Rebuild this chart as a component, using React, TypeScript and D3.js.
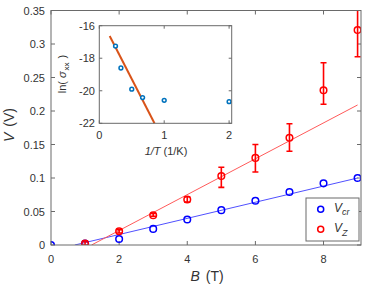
import * as d3 from 'd3';
import * as React from 'react';

const W = 374;
const H = 288;

// main plot data
const fieldB = [0, 1, 2, 3, 4, 5, 6, 7, 8, 9];
const vCr = [0, 0.002, 0.009, 0.024, 0.038, 0.052, 0.066, 0.079, 0.092, 0.1];
const fieldZ = [1, 2, 3, 4, 5, 6, 7, 8, 9];
const vZ = [0.002, 0.0205, 0.0445, 0.068, 0.103, 0.13, 0.16, 0.231, 0.321];
const vZLow = [0, 0.018, 0.043, 0.064, 0.086, 0.109, 0.14, 0.21, 0.281];
const vZHigh = [0.005, 0.023, 0.047, 0.072, 0.116, 0.15, 0.181, 0.272, 0.361];
const fitCrB = [0.7, 9];
const fitCrV = [0, 0.1];
const fitZB = [1.19, 9];
const fitZV = [0, 0.209];
const xTicks = [0, 2, 4, 6, 8];
const yTicks = [0, 0.05, 0.1, 0.15, 0.2, 0.25, 0.3, 0.35];

// inset data
const invT = [0.25, 0.333, 0.5, 0.667, 1, 2];
const lnSigma = [-17.25, -18.6, -19.9, -20.42, -20.59, -20.67];
const fitInvT = [0.16, 0.85];
const fitLn = [-16.63, -22];
const insetXTicks = [0, 1, 2];
const insetYTicks = [-16, -18, -20, -22];

const FONT = 'Liberation Sans, Arial, sans-serif';
const AX = '#6a6a6a';
const TXT = '#333';

const x = d3.scaleLinear().domain([0, 9.1]).range([51, 361]);
const y = d3.scaleLinear().domain([0, 0.35]).range([245, 10.5]);
const ix = d3.scaleLinear().domain([0, 2.04]).range([99.3, 231.7]);
const iy = d3.scaleLinear().domain([-22, -16]).range([123.3, 25.7]);

const line = (xs: number[], ys: number[], sx: any, sy: any) =>
  d3.line<number>().x((d) => sx(d)).y((d, i) => sy(ys[i]))(xs) as string;

export default function App() {
  const [x0, x1] = x.range();
  const [y0, y1] = y.range();
  const [ix0, ix1] = ix.range();
  const [iy0, iy1] = iy.range();
  const tk = 4;

  return (
    <svg width={W} height={H} style={{ display: 'block', position: 'absolute', left: 0, top: 0 }} fontFamily={FONT}>
      <defs>
        <clipPath id="mainclip">
          <rect x={x0} y={y1} width={x1 - x0} height={y0 - y1} />
        </clipPath>
      </defs>
      <rect x={0} y={0} width={W} height={H} fill="#fff" />

      {/* ticks main */}
      {xTicks.map((t) => (
        <g key={'xt' + t}>
          <line x1={x(t)} x2={x(t)} y1={y0} y2={y0 - tk} stroke={AX} />
          <line x1={x(t)} x2={x(t)} y1={y1} y2={y1 + tk} stroke={AX} />
          <text x={x(t)} y={263} textAnchor="middle" fontSize={11} fill={TXT}>{t}</text>
        </g>
      ))}
      {yTicks.map((t) => (
        <g key={'yt' + t}>
          <line x1={x0} x2={x0 + tk} y1={y(t)} y2={y(t)} stroke={AX} />
          <line x1={x1} x2={x1 - tk} y1={y(t)} y2={y(t)} stroke={AX} />
          <text x={45} y={y(t) + 4} textAnchor="end" fontSize={11} fill={TXT}>{t}</text>
        </g>
      ))}

      <g clipPath="url(#mainclip)">
        <path d={line(fitCrB, fitCrV, x, y)} stroke="#5050ff" strokeWidth={1} fill="none" />
        <path d={line(fitZB, fitZV, x, y)} stroke="#ff5a5a" strokeWidth={1} fill="none" />
        {fieldZ.map((b, i) => (
          <g key={'eb' + b} stroke="#ff0000" strokeWidth={1.6}>
            <line x1={x(b)} x2={x(b)} y1={y(vZLow[i])} y2={y(vZHigh[i])} />
            <line x1={x(b) - 3} x2={x(b) + 3} y1={y(vZLow[i])} y2={y(vZLow[i])} />
            <line x1={x(b) - 3} x2={x(b) + 3} y1={y(vZHigh[i])} y2={y(vZHigh[i])} />
          </g>
        ))}
        {fieldB.map((b, i) => (
          <circle key={'c' + b} cx={x(b)} cy={y(vCr[i])} r={3.3} fill="none" stroke="#0000ff" strokeWidth={1.5} />
        ))}
        {fieldZ.map((b, i) => (
          <circle key={'z' + b} cx={x(b)} cy={y(vZ[i])} r={3.3} fill="none" stroke="#ff0000" strokeWidth={1.5} />
        ))}
      </g>

      <rect x={x0} y={y1} width={x1 - x0} height={y0 - y1} fill="none" stroke={AX} strokeWidth={1} />

      {/* axis labels */}
      <text x={207} y={281} textAnchor="middle" fontSize={14} fill={TXT}>
        <tspan fontStyle="italic">B</tspan>
        <tspan dx={6}>(T)</tspan>
      </text>
      <text transform="translate(14,125) rotate(-90)" textAnchor="middle" fontSize={14} fill={TXT}>
        <tspan fontStyle="italic">V</tspan>
        <tspan dx={6}>(V)</tspan>
      </text>

      {/* inset */}
      <rect x={ix0} y={iy1} width={ix1 - ix0} height={iy0 - iy1} fill="#fff" />
      {insetXTicks.map((t) => (
        <g key={'ixt' + t}>
          <line x1={ix(t)} x2={ix(t)} y1={iy0} y2={iy0 - 3} stroke={AX} />
          <line x1={ix(t)} x2={ix(t)} y1={iy1} y2={iy1 + 3} stroke={AX} />
          <text x={ix(t)} y={139} textAnchor="middle" fontSize={11} fill={TXT}>{t}</text>
        </g>
      ))}
      {insetYTicks.map((t) => (
        <g key={'iyt' + t}>
          <line x1={ix0} x2={ix0 + 3} y1={iy(t)} y2={iy(t)} stroke={AX} />
          <line x1={ix1} x2={ix1 - 3} y1={iy(t)} y2={iy(t)} stroke={AX} />
          <text x={95} y={iy(t) + 4} textAnchor="end" fontSize={11} fill={TXT}>{t}</text>
        </g>
      ))}
      <path d={line(fitInvT, fitLn, ix, iy)} stroke="#D95319" strokeWidth={2} fill="none" />
      {invT.map((t, i) => (
        <circle key={'in' + t} cx={ix(t)} cy={iy(lnSigma[i])} r={1.9} fill="#fff" stroke="#0072BD" strokeWidth={1.5} />
      ))}
      <rect x={ix0} y={iy1} width={ix1 - ix0} height={iy0 - iy1} fill="none" stroke={AX} strokeWidth={1} />
      <text x={166} y={155} textAnchor="middle" fontSize={11} fill={TXT}>
        <tspan fontStyle="italic">1/T</tspan>
        <tspan dx={3}>(1/K)</tspan>
      </text>
      <text transform="translate(66,74) rotate(-90)" textAnchor="middle" fontSize={11} fill={TXT}>
        <tspan>ln(</tspan>
        <tspan dx={3} fontStyle="italic">σ</tspan>
        <tspan fontSize={8} dx={1} dy={3}>xx</tspan>
        <tspan dx={4} dy={-3}>)</tspan>
      </text>

      {/* legend */}
      <rect x={306} y={198} width={53} height={43} fill="#fff" stroke={AX} strokeWidth={1} />
      <circle cx={320.7} cy={209.3} r={3} fill="none" stroke="#0000ff" strokeWidth={1.5} />
      <circle cx={320.7} cy={229.3} r={3} fill="none" stroke="#ff0000" strokeWidth={1.5} />
      <text x={334} y={212} fontSize={12} fill={TXT}>
        <tspan fontStyle="italic">V</tspan>
        <tspan fontSize={9} dy={3} fontStyle="italic">cr</tspan>
      </text>
      <text x={334} y={232} fontSize={12} fill={TXT}>
        <tspan fontStyle="italic">V</tspan>
        <tspan fontSize={9} dy={4} fontStyle="italic">Z</tspan>
      </text>
    </svg>
  );
}
